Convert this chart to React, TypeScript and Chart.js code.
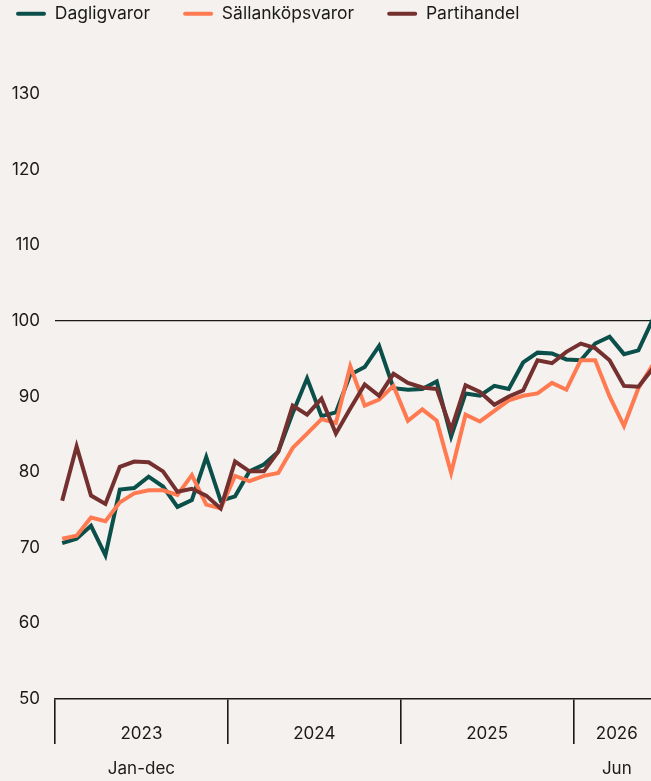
import { useEffect, useRef } from 'react';
import { Chart, registerables } from 'chart.js';

Chart.register(...registerables);

const YEARS = ['2023', '2024', '2025', '2026'];
const MONTHS_PER_YEAR = [12, 12, 12, 6];
const YEAR_NOTES = ['Jan-dec', '', '', 'Jun'];
const MONTHS = ['jan', 'feb', 'mar', 'apr', 'maj', 'jun', 'jul', 'aug', 'sep', 'okt', 'nov', 'dec'];

const DAGLIGVAROR = [
  70.6, 71.2, 72.9, 69.0, 77.7, 77.9, 79.4, 78.1, 75.4, 76.3, 82.0, 76.2,
  76.8, 80.1, 81.0, 82.7, 87.8, 92.4, 87.4, 87.9, 92.9, 93.9, 96.7, 91.1,
  90.9, 91.0, 92.0, 84.7, 90.4, 90.1, 91.4, 91.0, 94.5, 95.8, 95.7, 94.9,
  94.8, 97.0, 97.9, 95.6, 96.1, 100.2,
];
const SALLANKOPSVAROR = [
  71.2, 71.6, 74.0, 73.5, 76.0, 77.2, 77.6, 77.6, 77.0, 79.6, 75.7, 75.2,
  79.5, 78.8, 79.5, 79.9, 83.2, 85.1, 87.0, 86.5, 94.0, 88.8, 89.6, 91.4,
  86.8, 88.3, 86.8, 79.9, 87.6, 86.7, 88.1, 89.5, 90.1, 90.4, 91.8, 90.9,
  94.8, 94.8, 90.0, 86.1, 91.1, 94.2,
];
const PARTIHANDEL = [
  76.2, 83.4, 76.9, 75.8, 80.7, 81.4, 81.3, 80.1, 77.4, 77.8, 76.9, 75.2,
  81.4, 80.1, 80.1, 82.7, 88.8, 87.6, 89.7, 85.1, 88.4, 91.6, 90.1, 93.0,
  91.8, 91.2, 91.0, 85.6, 91.5, 90.6, 88.9, 90.0, 90.8, 94.8, 94.4, 95.9,
  97.0, 96.4, 94.8, 91.4, 91.3, 93.7,
];

const Y_MIN = 50;
const Y_MAX = 130;
const Y_STEP = 10;
const REFERENCE_VALUE = 100;

const BG = '#f4f1ee';
const TEXT = '#1a1a1a';
const GREEN = '#0a4f49';
const ORANGE = '#ff7a50';
const BROWN = '#74302f';
const FONT = 'Inter, "Noto Sans", sans-serif';

const LEGEND_PAD = 33;
const TOP_PAD = -28;

// Build category list and the tick labels (one per year group)
const CATEGORIES: string[] = [];
const TICK_LABELS: Record<number, string | string[]> = {};
const YEAR_STARTS: number[] = [];
{
  let idx = 0;
  YEARS.forEach((yr, yi) => {
    const count = MONTHS_PER_YEAR[yi];
    YEAR_STARTS.push(idx);
    const mid = idx + Math.floor((count - 1) / 2);
    TICK_LABELS[mid] = YEAR_NOTES[yi] ? [yr, '', YEAR_NOTES[yi]] : yr;
    for (let m = 0; m < count; m++) {
      CATEGORIES.push(`${MONTHS[m]} ${yr}`);
    }
    idx += count;
  });
}

const legendHeight = {
  id: 'legendHeight',
  beforeInit(chart: any) {
    const legend = chart.legend;
    if (!legend) return;
    const orig = legend.fit;
    legend.fit = function () {
      orig.call(this);
      this.height = 94 - TOP_PAD;
    };
  },
};

export default function App() {
  const ref = useRef<HTMLCanvasElement>(null);

  useEffect(() => {
    const canvas = ref.current;
    if (!canvas) return;
    const chart = new Chart(canvas, {
      type: 'line',
      data: {
        labels: CATEGORIES,
        datasets: [
          {
            label: 'Dagligvaror',
            data: DAGLIGVAROR,
            borderColor: GREEN,
            backgroundColor: GREEN,
            order: 3,
          },
          {
            label: 'Sällanköpsvaror',
            data: SALLANKOPSVAROR,
            borderColor: ORANGE,
            backgroundColor: ORANGE,
            order: 2,
          },
          {
            label: 'Partihandel',
            data: PARTIHANDEL,
            borderColor: BROWN,
            backgroundColor: BROWN,
            order: 1,
          },
        ],
      },
      options: {
        animation: false,
        responsive: false,
        devicePixelRatio: 1,
        elements: {
          line: { borderWidth: 4, tension: 0, borderJoinStyle: 'miter', fill: false },
          point: { radius: 0, hoverRadius: 0 },
        },
        layout: { padding: { top: TOP_PAD, left: 16 - LEGEND_PAD, right: 0, bottom: 0 } },
        plugins: {
          tooltip: { enabled: false },
          legend: {
            position: 'top',
            align: 'start',
            labels: {
              boxWidth: 30,
              boxHeight: 4,
              useBorderRadius: true,
              borderRadius: 2,
              padding: LEGEND_PAD,
              color: TEXT,
              font: { family: FONT, size: 17.5 },
              sort: (a: any, b: any) => a.datasetIndex - b.datasetIndex,
              generateLabels: (c: any) =>
                Chart.defaults.plugins.legend.labels
                  .generateLabels(c)
                  .map((l: any) => ({ ...l, lineWidth: 0, strokeStyle: l.fillStyle })),
            },
          },
        },
        scales: {
          x: {
            type: 'category',
            offset: true,
            border: { display: true, color: TEXT, width: 1.6 },
            grid: {
              display: true,
              offset: true,
              drawOnChartArea: false,
              drawTicks: true,
              tickLength: 45,
              lineWidth: 1.6,
              color: (ctx: any) =>
                typeof ctx.index === 'number' && YEAR_STARTS.includes(ctx.index)
                  ? TEXT
                  : 'rgba(0,0,0,0)',
            },
            ticks: {
              autoSkip: false,
              maxRotation: 0,
              minRotation: 0,
              labelOffset: 7.2,
              padding: -19,
              color: TEXT,
              font: { family: FONT, size: 17, lineHeight: '17.5px' },
              callback: (_v: any, i: number) => TICK_LABELS[i] ?? '',
            },
            afterFit: (s: any) => {
              s.height = 82;
            },
          },
          y: {
            min: Y_MIN,
            max: Y_MAX,
            border: { display: false },
            grid: {
              drawTicks: false,
              lineWidth: 1.3,
              color: (ctx: any) =>
                ctx.tick && ctx.tick.value === REFERENCE_VALUE ? TEXT : 'rgba(0,0,0,0)',
            },
            ticks: {
              stepSize: Y_STEP,
              padding: 15,
              color: TEXT,
              font: { family: FONT, size: 17 },
            },
            afterFit: (s: any) => {
              s.width = 55 + LEGEND_PAD - 16;
            },
          },
        },
      },
      plugins: [legendHeight],
    });
    return () => chart.destroy();
  }, []);

  return (
    <div
      style={{
        position: 'fixed',
        left: 0,
        top: 0,
        width: 651,
        height: 781,
        overflow: 'hidden',
        background: BG,
      }}
    >
      <canvas ref={ref} width={660} height={781} style={{ display: 'block', width: 660, height: 781 }} />
    </div>
  );
}
